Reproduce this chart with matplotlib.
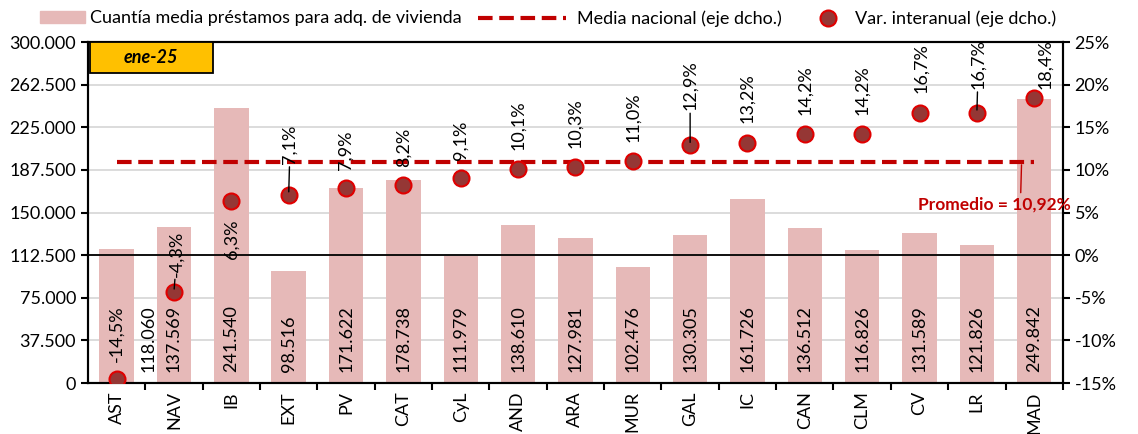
import matplotlib.pyplot as plt
from matplotlib.lines import Line2D
from matplotlib.patches import Patch, Rectangle

plt.rcParams['font.family'] = ['Lato', 'DejaVu Sans']

# datos
regiones = ['AST', 'NAV', 'IB', 'EXT', 'PV', 'CAT', 'CyL', 'AND', 'ARA', 'MUR',
            'GAL', 'IC', 'CAN', 'CLM', 'CV', 'LR', 'MAD']
cuantia = [118060, 137569, 241540, 98516, 171622, 178738, 111979, 138610, 127981,
           102476, 130305, 161726, 136512, 116826, 131589, 121826, 249842]
var_interanual = [-14.5, -4.3, 6.3, 7.1, 7.9, 8.2, 9.1, 10.1, 10.3, 11.0,
                  12.9, 13.2, 14.2, 14.2, 16.7, 16.7, 18.4]
media_nacional = 10.92

# desplazamiento (puntos) de las etiquetas de %; negativo = debajo del punto
offs = {0: (0, 12), 1: (2, 11), 2: (0, -13), 3: (1, 22), 7: (0, 14), 8: (0, 14),
        9: (0, 14), 10: (0, 25), 11: (0, 14), 12: (0, 14), 13: (0, 14),
        14: (1, 14), 15: (1, 17), 16: (8, 7)}
con_linea = [1, 3, 10, 15]

ROJO = '#C00000'
fmt_miles = lambda v: f"{v:,}".replace(',', '.')
fmt_pct = lambda v: f"{v:.1f}%".replace('.', ',')

fig = plt.figure(figsize=(11.38, 4.34), dpi=100)
ax = fig.add_axes([0.0773, 0.1175, 0.8567, 0.7857])
ax2 = ax.twinx()

x = list(range(len(regiones)))
ax.bar(x, cuantia, width=0.6, color='#E6B9B8', zorder=2)
ax.set_xlim(-0.5, len(regiones) - 0.5)
ax.set_ylim(0, 300000)
ax.set_yticks(range(0, 300001, 37500))
ax.set_yticklabels([fmt_miles(v) for v in range(0, 300001, 37500)], fontsize=13)
ax.grid(axis='y', color='#D6D6D6', lw=1.2, zorder=0)
ax.set_axisbelow(True)

ax.set_xticks(x)
ax.set_xticklabels(regiones, rotation=90, fontsize=13)
ax.set_xticks([i + 0.5 for i in x], minor=True)
ax.tick_params(axis='x', which='major', length=0, pad=6)
ax.tick_params(axis='x', which='minor', length=5, width=1.5)
ax.tick_params(axis='y', length=5, width=1.5)

# etiquetas de las barras (la de AST va desplazada, como en el original)
for i, v in enumerate(cuantia):
    xi = i + 0.55 if i == 0 else i
    ax.annotate(fmt_miles(v), (xi, 0), xytext=(0, 8), textcoords='offset points',
                rotation=90, ha='center', va='bottom', fontsize=13, zorder=5)

ax2.set_ylim(-15, 25)
ax2.set_yticks(range(-15, 26, 5))
ax2.set_yticklabels([f"{v}%" for v in range(-15, 26, 5)], fontsize=13)
ax2.tick_params(axis='y', length=5, width=1.5)
ax2.axhline(0, color='black', lw=1.3, zorder=3)

ax2.plot([0, len(regiones) - 1], [media_nacional] * 2, color=ROJO, lw=3,
         dashes=(3.5, 1.6), zorder=4)
ax2.plot(x, var_interanual, 'o', ms=11.5, mfc='#953735', mec='#E00000', mew=1.5,
         zorder=6)

for i, v in enumerate(var_interanual):
    dx, dy = offs.get(i, (0, 13))
    ap = dict(arrowstyle='-', color='black', lw=1, shrinkA=0, shrinkB=2) if i in con_linea else None
    ax2.annotate(fmt_pct(v), (i, v), xytext=(dx, dy), textcoords='offset points',
                 rotation=90, ha='center', va='bottom' if dy > 0 else 'top',
                 fontsize=13, arrowprops=ap, zorder=7)

ax2.annotate('Promedio = 10,92%', (15.78, media_nacional), xytext=(15.31, 5.9),
             textcoords='data', color=ROJO, fontsize=12.5, fontweight='bold',
             ha='center', va='center',
             arrowprops=dict(arrowstyle='-', color=ROJO, lw=1, shrinkA=1, shrinkB=2,
                             relpos=(0.67, 1.0)))

for a in (ax, ax2):
    for s in a.spines.values():
        s.set_linewidth(1.5)

# recuadro con la fecha
ax2.add_patch(Rectangle((0.002, 0.909), 0.126, 0.091, transform=ax2.transAxes,
                        fc='#FFC000', ec='black', lw=1.3, zorder=8, clip_on=False))
ax2.text(0.065, 0.9545, 'ene-25', transform=ax2.transAxes, fontsize=13,
         fontweight='bold', style='italic', ha='center', va='center', zorder=9)

# leyenda en tres bloques para ajustar cada posicion
ley = [(Patch(color='#E6B9B8'), 'Cuantía media préstamos para adq. de vivienda', 0.0351, 2.5, 0.3),
       (Line2D([], [], color=ROJO, lw=3, dashes=(3.5, 1.6)), 'Media nacional (eje dcho.)', 0.420, 4.9, 0.6),
       (Line2D([], [], ls='none', marker='o', ms=11.5, mfc='#953735', mec='#E00000', mew=1.5),
        'Var. interanual (eje dcho.)', 0.7118, 2.0, 0.5)]
for h, lab, x0, hl, tp in ley:
    fig.legend([h], [lab], loc='upper left', bbox_to_anchor=(x0, 0.976), frameon=False,
               fontsize=13, handlelength=hl, handletextpad=tp, borderpad=0,
               borderaxespad=0)

plt.savefig('out.png', dpi=100)
